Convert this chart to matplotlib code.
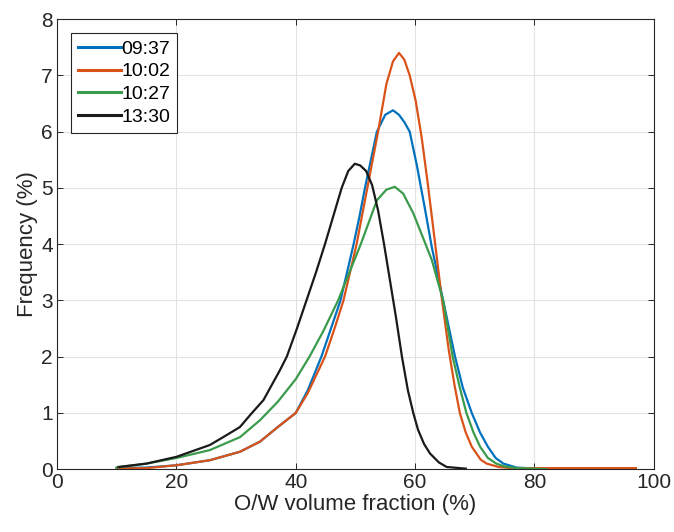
import numpy as np
import matplotlib.pyplot as plt

plt.rcParams['font.family'] = ['Liberation Sans', 'DejaVu Sans']

# series
x_0937 = [10, 15, 20, 25.6, 30.65, 34, 37, 40, 42, 44.3, 45.9, 47.5, 48.6, 49.7, 50.7, 51.6,
          52.6, 53.6, 55, 56.3, 57.3, 58.2, 59.1, 60.3, 61.6, 62.8, 64.7, 66.7, 68, 69.5,
          70.9, 72.2, 73.5, 74.8, 77, 80]
y_0937 = [0.02, 0.03, 0.07, 0.16, 0.31, 0.49, 0.75, 1.0, 1.4, 2.0, 2.5, 3.0, 3.5, 4.0, 4.5,
          5.0, 5.5, 6.0, 6.3, 6.38, 6.3, 6.17, 6.0, 5.4, 4.66, 3.95, 3.0, 2.0, 1.45, 1.0,
          0.65, 0.4, 0.2, 0.1, 0.03, 0.01]

x_1002 = [10, 15, 20, 25.6, 30.65, 34, 37, 40, 42, 44.9, 46.5, 48.0, 49.1, 50.2, 51.1, 52,
          52.9, 53.8, 55.2, 56.3, 57.3, 58.2, 59.1, 60.1, 61.1, 62.1, 63.2, 64.4, 65.6, 66.6,
          67.5, 68.5, 69.5, 71, 72, 74, 76, 80, 85, 90, 97]
y_1002 = [0.01, 0.02, 0.07, 0.16, 0.31, 0.49, 0.75, 1.0, 1.35, 2.0, 2.5, 3.0, 3.5, 4.0, 4.5,
          5.0, 5.5, 6.0, 6.85, 7.25, 7.4, 7.28, 7.0, 6.55, 5.9, 5.1, 4.15, 3.1, 2.15, 1.5,
          1.0, 0.65, 0.4, 0.17, 0.1, 0.04, 0.02, 0.02, 0.02, 0.02, 0.02]

x_1027 = [10, 15, 20, 25.6, 30.65, 34, 37, 40, 42.3, 44.6, 47.1, 49, 50.9, 53.6, 55.2, 56.6,
          58, 59.7, 61.2, 62.8, 64.7, 66.3, 67.5, 68.6, 69.8, 70.9, 72.2, 73.6, 75, 77, 80, 82]
y_1027 = [0.03, 0.1, 0.2, 0.34, 0.57, 0.87, 1.2, 1.6, 2.0, 2.45, 3.0, 3.5, 4.0, 4.78, 4.97,
          5.02, 4.9, 4.55, 4.15, 3.72, 3.0, 2.0, 1.45, 1.0, 0.65, 0.4, 0.2, 0.1, 0.05, 0.02,
          0.01, 0.0]

x_1330 = [10.3, 15, 20, 25.6, 28, 30.65, 32.5, 34.6, 36, 37.3, 38.5, 40.2, 41.8, 43.4, 44.9,
          46.3, 47.7, 48.8, 49.9, 50.8, 51.8, 52.8, 53.8, 54.8, 55.8, 56.8, 57.8, 58.8, 59.7,
          60.5, 61.5, 62.5, 64, 65.3, 68.5]
y_1330 = [0.04, 0.1, 0.22, 0.43, 0.58, 0.75, 0.98, 1.23, 1.5, 1.75, 2.0, 2.5, 3.0, 3.5, 4.0,
          4.5, 5.0, 5.3, 5.43, 5.4, 5.3, 5.05, 4.6, 4.0, 3.35, 2.7, 2.0, 1.4, 1.0, 0.7, 0.45,
          0.28, 0.12, 0.04, 0.01]

labels = ['09:37', '10:02', '10:27', '13:30']
colors = ['#0072BD', '#D95319', '#3a9b4c', '#1a1a1a']

fig = plt.figure(figsize=(6.74, 5.32), dpi=100)
ax = fig.add_axes([0.0846, 0.118, 0.8854, 0.846])

series = [(x_0937, y_0937), (x_1002, y_1002), (x_1027, y_1027), (x_1330, y_1330)]
for (xs, ys), lab, c in zip(series, labels, colors):
    ax.plot(xs, ys, color=c, lw=1.6, label=lab)

ax.set_xlim(0, 100)
ax.set_ylim(0, 8)
ax.set_xticks(np.arange(0, 101, 20))
ax.set_yticks(np.arange(0, 9, 1))
ax.grid(True, color='#e3e3e3', lw=0.8)
ax.set_axisbelow(True)
ax.tick_params(direction='in', top=True, right=True, length=4, labelsize=15,
               colors='#262626', width=0.7, pad=3)
for s in ax.spines.values():
    s.set_color('#262626')
    s.set_linewidth(0.8)

ax.set_xlabel('O/W volume fraction (%)', fontsize=16, color='#262626', labelpad=1)
ax.set_ylabel('Frequency (%)', fontsize=16, color='#262626', labelpad=2)

leg = ax.legend(loc='upper left', fontsize=14, handlelength=2.2, handletextpad=0.05,
                borderpad=0.35, labelspacing=0.26, fancybox=False, framealpha=1,
                edgecolor='#262626', bbox_to_anchor=(0.007, 0.99))
leg.get_frame().set_linewidth(0.8)
for line in leg.get_lines():
    line.set_linewidth(2.2)

fig.savefig('out.png', dpi=100)
